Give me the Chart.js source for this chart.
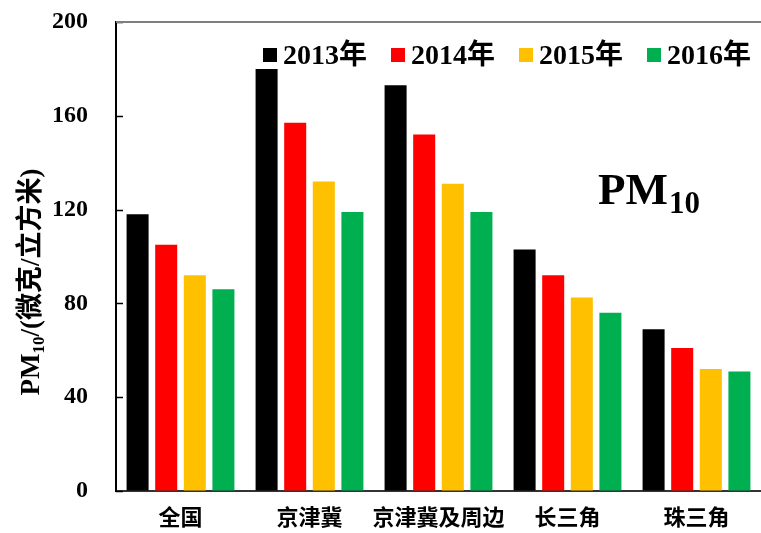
<!DOCTYPE html>
<html>
<head>
<meta charset="utf-8">
<script src="https://cdn.jsdelivr.net/npm/chart.js@4"></script>
<style>
html,body{margin:0;padding:0;background:#fff;}
#wrap{width:761px;height:533px;position:relative;}
</style>
</head>
<body>
<div id="wrap"><canvas id="c"></canvas></div>
<script>
const categories = ['全国', '京津冀', '京津冀及周边', '长三角', '珠三角'];
const seriesLabels = ['2013年', '2014年', '2015年', '2016年'];
const values2013 = [118, 180, 173, 103, 69];
const values2014 = [105, 157, 152, 92, 61];
const values2015 = [92, 132, 131, 82.5, 52];
const values2016 = [86, 119, 119, 76, 51];
const yTicks = [0, 40, 80, 120, 160, 200];
const colors = ['#000000', '#FF0000', '#FFC000', '#00B050'];

const LATIN = '"Liberation Serif", "Times New Roman", serif';
const CJK = '"Liberation Serif", "Noto Sans CJK SC", serif';

const extras = {
  id: 'extras',
  afterDraw(chart) {
    const ctx = chart.ctx;
    const ys = chart.scales.y;
    const area = chart.chartArea;
    ctx.save();
    // inner tick marks on y axis
    ctx.strokeStyle = '#000';
    ctx.lineWidth = 1.5;
    yTicks.forEach(v => {
      const py = Math.round(ys.getPixelForValue(v)) + 0.5;
      ctx.beginPath();
      ctx.moveTo(area.left, py);
      ctx.lineTo(area.left + 7, py);
      ctx.stroke();
    });
    // top border
    ctx.strokeStyle = '#7f7f7f';
    ctx.lineWidth = 2;
    ctx.beginPath();
    ctx.moveTo(area.left, area.top);
    ctx.lineTo(chart.width, area.top);
    ctx.stroke();

    // legend
    ctx.textBaseline = 'alphabetic';
    ctx.textAlign = 'left';
    ctx.font = 'bold 28px ' + CJK;
    let x = 263;
    const yBase = 64;
    chart.data.datasets.forEach((ds, i) => {
      ctx.fillStyle = ds.backgroundColor;
      ctx.fillRect(x, 48, 14, 14);
      x += 20;
      ctx.fillStyle = '#000';
      ctx.fillText(ds.label, x, yBase);
      x += ctx.measureText(ds.label).width + 24;
    });

    // PM10 annotation
    ctx.fillStyle = '#000';
    ctx.font = 'bold 45px ' + LATIN;
    ctx.fillText('PM', 598, 204);
    const w = ctx.measureText('PM').width;
    ctx.font = 'bold 31px ' + LATIN;
    ctx.fillText('10', 598 + w + 1, 213);

    // y-axis title (rotated)
    ctx.translate(32, 282);
    ctx.rotate(-Math.PI / 2);
    ctx.textBaseline = 'middle';
    const p1 = 'PM', p2 = '10', p3 = '/(微克/立方米)';
    ctx.font = 'bold 27px ' + LATIN;
    const w1 = ctx.measureText(p1).width;
    ctx.font = 'bold 17px ' + LATIN;
    const w2 = ctx.measureText(p2).width;
    ctx.font = 'bold 27px ' + CJK;
    const w3 = ctx.measureText(p3).width;
    let sx = -(w1 + w2 + w3) / 2;
    ctx.font = 'bold 27px ' + LATIN;
    ctx.fillText(p1, sx, 0);
    sx += w1;
    ctx.font = 'bold 17px ' + LATIN;
    ctx.fillText(p2, sx, 8);
    sx += w2;
    ctx.font = 'bold 27px ' + CJK;
    ctx.fillText(p3, sx, 0);
    ctx.restore();
  }
};

const datasets = [values2013, values2014, values2015, values2016].map((vals, i) => ({
  label: seriesLabels[i],
  data: vals,
  backgroundColor: colors[i],
  borderWidth: 0,
  categoryPercentage: 0.887,
  barPercentage: 0.77
}));

new Chart(document.getElementById('c'), {
  type: 'bar',
  data: { labels: categories, datasets },
  options: {
    responsive: true,
    maintainAspectRatio: false,
    animation: false,
    layout: { padding: { top: 22, right: 0, left: 0, bottom: 0 } },
    plugins: { legend: { display: false }, tooltip: { enabled: false } },
    scales: {
      x: {
        grid: { display: false, drawTicks: false },
        border: { display: true, color: '#333', width: 2 },
        ticks: { color: '#000', font: { family: CJK, size: 22, weight: 'bold' }, padding: 15, maxRotation: 0, autoSkip: false },
        afterFit(s) { s.height = 42; }
      },
      y: {
        min: 0, max: 200,
        afterBuildTicks(s) { s.ticks = yTicks.map(v => ({ value: v })); },
        grid: { display: true, drawOnChartArea: false, drawTicks: true, tickLength: 26, tickColor: 'rgba(0,0,0,0)' },
        border: { display: true, color: '#000', width: 2 },
        ticks: { color: '#000', font: { family: LATIN, size: 24, weight: 'bold' }, padding: 2 },
        afterFit(s) { s.width = 116; }
      }
    }
  },
  plugins: [extras]
});
</script>
</body>
</html>
